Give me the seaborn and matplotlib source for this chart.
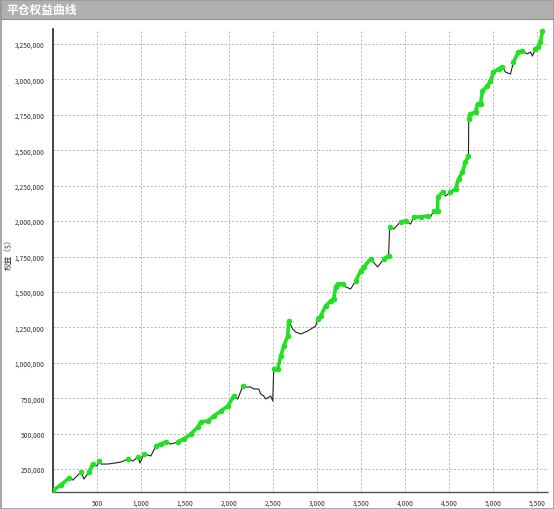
import matplotlib
matplotlib.use('Agg')
import matplotlib.pyplot as plt
import numpy as np
import pandas as pd
import seaborn as sns
from matplotlib.patches import Rectangle
from matplotlib.ticker import AutoMinorLocator, FuncFormatter

# closed-trade equity
trade_no = [
    0, 91, 181, 227, 318, 352, 408, 454, 499, 522, 544, 624, 703, 771, 851, 907,
    964, 987, 1032, 1111, 1168, 1225, 1281, 1338, 1418, 1486, 1565, 1644, 1678,
    1758, 1826, 1905, 1985, 2053, 2098, 2155, 2189, 2245, 2279, 2336, 2359, 2393,
    2415, 2472, 2495, 2506, 2552, 2586, 2620, 2665, 2676, 2722, 2756, 2812, 2892,
    2982, 3005, 3039, 3096, 3153, 3187, 3209, 3232, 3289, 3323, 3379, 3436, 3493,
    3527, 3606, 3686, 3754, 3810, 3822, 3867, 3946, 4003, 4060, 4094, 4173, 4253,
    4287, 4321, 4366, 4370, 4423, 4457, 4513, 4570, 4604, 4649, 4683, 4717, 4720,
    4740, 4797, 4820, 4854, 4876, 4933, 4967, 5001, 5058, 5103, 5137, 5194, 5228,
    5285, 5330, 5387, 5421, 5443, 5477, 5511, 5534, 5557,
]
equity = [
    100000, 137000, 186500, 172000, 229000, 179000, 229000, 285000, 271000,
    306000, 285000, 285000, 292000, 299000, 320000, 306000, 335000, 292000,
    356000, 342000, 412000, 426000, 441000, 426000, 441000, 462000, 497000,
    546000, 582000, 589000, 624000, 659000, 695000, 765000, 744000, 836000,
    829000, 829000, 815000, 815000, 779000, 765000, 744000, 765000, 730000,
    956000, 956000, 1048000, 1118000, 1189000, 1295000, 1238000, 1217000,
    1203000, 1224000, 1259000, 1309000, 1330000, 1401000, 1436000, 1450000,
    1535000, 1556000, 1556000, 1535000, 1521000, 1577000, 1648000, 1676000,
    1732000, 1676000, 1732000, 1754000, 1958000, 1944000, 1994000, 2001000,
    1979000, 2029000, 2029000, 2036000, 2029000, 2071000, 2071000, 2170000,
    2205000, 2177000, 2205000, 2227000, 2297000, 2347000, 2417000, 2460000,
    2721000, 2756000, 2770000, 2827000, 2827000, 2918000, 2954000, 2989000,
    3052000, 3074000, 3088000, 3052000, 3038000, 3123000, 3194000, 3201000,
    3180000, 3194000, 3165000, 3215000, 3229000, 3264000, 3340000,
]

y_ticks = [250000, 500000, 750000, 1000000, 1250000, 1500000, 1750000,
           2000000, 2250000, 2500000, 2750000, 3000000, 3250000]
x_ticks = [500, 1000, 1500, 2000, 2500, 3000, 3500, 4000, 4500, 5000, 5500]


def main():
    df = pd.DataFrame({'trade': trade_no, 'equity': equity})
    # trades that close at a new equity high get a green marker
    df['new_high'] = df['equity'] >= df['equity'].cummax()
    # runs of consecutive new highs (big single-trade jumps stay thin)
    brk = (~df['new_high']) | (df['equity'].diff().abs() > 120000)
    df['run'] = brk.cumsum()
    highs = df[df['new_high']]

    sns.set_style('white')
    plt.rcParams['font.family'] = ['Noto Sans CJK SC', 'DejaVu Sans']

    fig = plt.figure(figsize=(5.54, 5.10), dpi=100)
    fig.patch.set_facecolor('white')

    # title bar
    fig.patches.append(Rectangle((0, 490 / 510), 1, 20 / 510, transform=fig.transFigure,
                                 facecolor='#b0b0b0', edgecolor='#8c8c8c', lw=0.8))
    fig.text(7 / 554, 500 / 510, '平仓权益曲线', color='white', fontsize=8.5,
             fontweight='bold', va='center', ha='left')
    fig.patches.append(Rectangle((0.5 / 554, 0.5 / 510), 553 / 554, 509 / 510,
                                 transform=fig.transFigure, fill=False,
                                 edgecolor='#9a9a9a', lw=1.2))

    ax = fig.add_axes([53 / 554, 17 / 510, 495 / 554, 463 / 510])
    ax.set_facecolor('white')

    sns.lineplot(data=df, x='trade', y='equity', ax=ax, color='#222222',
                 linewidth=0.8, sort=False)
    sns.lineplot(data=highs, x='trade', y='equity', units='run', estimator=None,
                 ax=ax, color='#22e022', linewidth=2.6, sort=False, zorder=3)
    sns.scatterplot(data=highs, x='trade', y='equity', ax=ax, color='#22e022',
                    s=16, linewidth=0, zorder=4)

    ax.set_xlim(0, 5620)
    ax.set_ylim(87600, 3356000)
    ax.set_xticks(x_ticks)
    ax.set_yticks(y_ticks)
    fmt = FuncFormatter(lambda v, p: f'{int(v):,}')
    ax.xaxis.set_major_formatter(fmt)
    ax.yaxis.set_major_formatter(fmt)
    ax.yaxis.set_minor_locator(AutoMinorLocator(10))
    ax.xaxis.set_minor_locator(AutoMinorLocator(10))
    ax.tick_params(axis='both', which='major', labelsize=4.8, length=3,
                   width=0.8, color='#333333', labelcolor='#333333')
    ax.tick_params(axis='x', which='major', pad=2)
    ax.tick_params(axis='y', which='major', pad=3)
    ax.tick_params(axis='both', which='minor', length=1.5, width=0.6, color='#333333')

    ax.grid(True, which='major', color='#b4b4b4', linestyle=(0, (2, 2)), linewidth=0.7)
    for side in ['top', 'right']:
        ax.spines[side].set_visible(False)
    ax.spines['left'].set_color('#222222')
    ax.spines['left'].set_linewidth(1.2)
    ax.spines['bottom'].set_color('#555555')
    ax.spines['bottom'].set_linewidth(1.0)
    ax.spines['bottom'].set_linestyle((0, (2, 1)))

    ax.set_xlabel('')
    ax.set_ylabel('权益（$）', fontsize=5.5, color='#333333')
    ax.yaxis.set_label_coords(-40 / 495, 0.52)

    fig.savefig('out.png', dpi=100)


if __name__ == '__main__':
    main()
